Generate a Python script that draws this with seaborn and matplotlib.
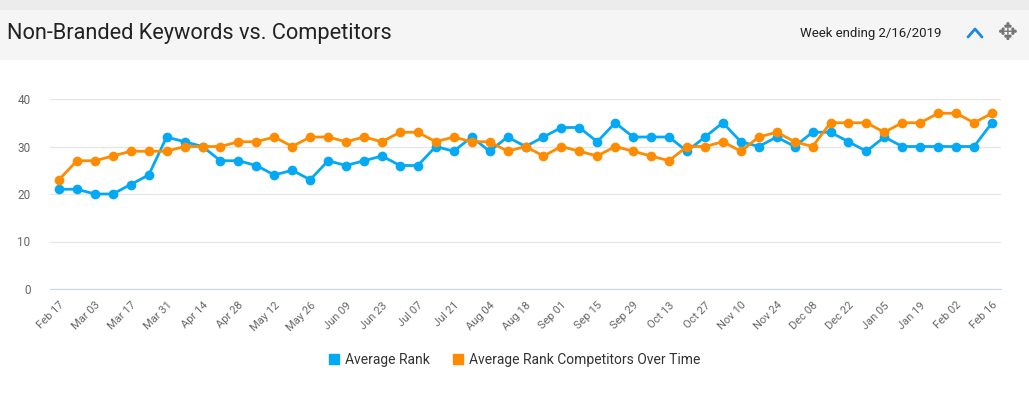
import pandas as pd
import seaborn as sns
import matplotlib.pyplot as plt
from matplotlib.patches import Rectangle
from matplotlib.lines import Line2D

# weekly points, Feb 17 2018 .. Feb 16 2019
weeks = pd.date_range('2018-02-17', '2019-02-16', freq='7D')
avg_rank = [21, 21, 20, 20, 22, 24, 32, 31, 30, 27, 27, 26, 24, 25, 23, 27, 26, 27,
            28, 26, 26, 30, 29, 32, 29, 32, 30, 32, 34, 34, 31, 35, 32, 32, 32, 29,
            32, 35, 31, 30, 32, 30, 33, 33, 31, 29, 32, 30, 30, 30, 30, 30, 35]
comp_rank = [23, 27, 27, 28, 29, 29, 29, 30, 30, 30, 31, 31, 32, 30, 32, 32, 31, 32,
             31, 33, 33, 31, 32, 31, 31, 29, 30, 28, 30, 29, 28, 30, 29, 28, 27, 30,
             30, 31, 29, 32, 33, 31, 30, 35, 35, 35, 33, 35, 35, 37, 37, 35, 37]
series_names = ['Average Rank', 'Average Rank Competitors Over Time']
colors = ['#03a9f4', '#ff8c00']
week_labels = [d.strftime('%b %d') for d in weeks]

df = pd.DataFrame({
    'idx': list(range(len(weeks))) * 2,
    'value': avg_rank + comp_rank,
    'series': [series_names[0]] * len(weeks) + [series_names[1]] * len(weeks),
})

sns.set_style('white')
plt.rcParams['font.family'] = ['Roboto', 'DejaVu Sans']

fig = plt.figure(figsize=(10.29, 3.98), dpi=100)
fig.patch.set_facecolor('white')

# header band
fig.add_artist(Rectangle((0, 1 - 10 / 398), 1, 10 / 398, transform=fig.transFigure,
                         facecolor='#ececec', edgecolor='none'))
fig.add_artist(Rectangle((0, 1 - 60 / 398), 1, 50 / 398, transform=fig.transFigure,
                         facecolor='#f5f5f5', edgecolor='none'))
fig.text(7 / 1029, 1 - 33 / 398, 'Non-Branded Keywords vs. Competitors', fontsize=15.7,
         color='#222222', va='center', ha='left')
fig.text(941 / 1029, 1 - 33 / 398, 'Week ending 2/16/2019', fontsize=9.5,
         color='#222222', va='center', ha='right')
# caret icon
fig.add_artist(Line2D([968 / 1029, 975 / 1029, 982 / 1029],
                      [1 - 37 / 398, 1 - 29 / 398, 1 - 37 / 398],
                      transform=fig.transFigure, color='#1e88e5', lw=2))
fig.text(1008 / 1029, 1 - 33 / 398, '\u2725', fontsize=17, color='#757575',
         va='center', ha='center', family=['DejaVu Sans'])

ax = fig.add_axes([50 / 1029, 1 - 289 / 398, 951 / 1029, 190 / 398])
sns.lineplot(data=df, x='idx', y='value', hue='series', palette=colors, marker='o',
             markersize=7, markeredgewidth=0, linewidth=2, ax=ax, legend=False)

ax.set_xlim(-0.5, len(weeks) - 0.5)
ax.set_ylim(0, 40)
ax.set_yticks([0, 10, 20, 30, 40])
ax.set_xticks(range(0, len(weeks), 2))
ax.set_xticklabels(week_labels[::2], rotation=45, ha='right', rotation_mode='anchor',
                   fontsize=8, color='#666666')
ax.tick_params(axis='y', labelsize=8.5, labelcolor='#666666', length=0, pad=14)
ax.tick_params(axis='x', length=5, color='#ccd6eb', pad=3)
ax.grid(axis='y', color='#e6e6e6', linewidth=1)
ax.set_axisbelow(True)
for s in ['top', 'right', 'left']:
    ax.spines[s].set_visible(False)
ax.spines['bottom'].set_color('#ccd6eb')
ax.set_xlabel('')
ax.set_ylabel('')

handles = [Line2D([], [], marker='s', linestyle='none', markersize=7, color=c)
           for c in colors]
fig.legend(handles, series_names, loc='center', bbox_to_anchor=(0.5, 1 - 360 / 398),
           ncol=2, frameon=False, fontsize=10, handlelength=0.8, handletextpad=0.4,
           columnspacing=1.6, labelcolor='#333333')

fig.savefig('out.png', dpi=100)
